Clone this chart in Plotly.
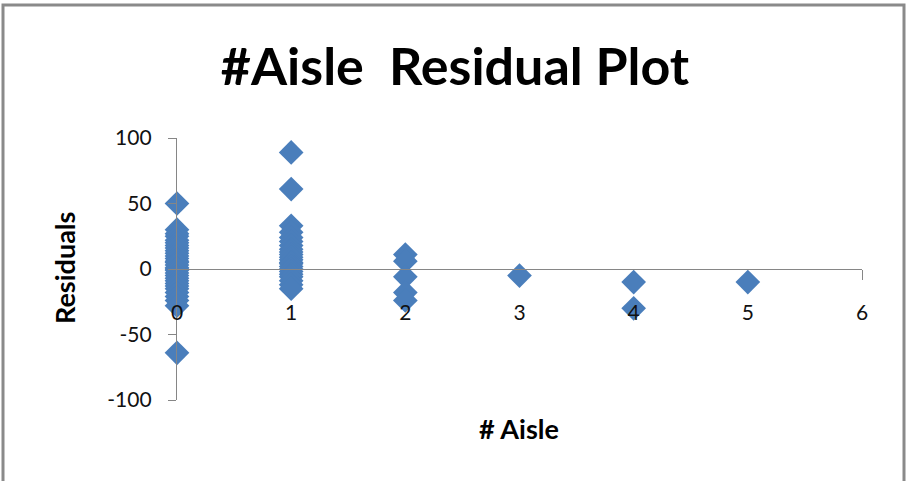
import plotly.graph_objects as go

# Residuals grouped by number of aisles
aisles_0 = [50, 30, 27, 25, 22, 20, 18, 16, 14, 12, 10, 8, 6, 5, 3, 1, 0, -1, -3, -5,
            -7, -9, -11, -13, -15, -18, -21, -24, -28, -64]
aisles_1 = [89, 61, 33, 28, 24, 21, 18, 15, 13, 11, 9, 7, 5, 4, 2, 0, -2, -4, -6,
            -9, -12, -15]
aisles_2 = [11, 6, -6, -18, -24]
aisles_3 = [-5]
aisles_4 = [-10, -30]
aisles_5 = [-10]

groups = [aisles_0, aisles_1, aisles_2, aisles_3, aisles_4, aisles_5]
x_vals = []
y_vals = []
for n, vals in enumerate(groups):
    x_vals += [n] * len(vals)
    y_vals += vals

x_ticks = [0, 1, 2, 3, 4, 5, 6]
y_ticks = [-100, -50, 0, 50, 100]

W, H = 907, 481
L, R, T, B = 177, 45, 138, 81
pw, ph = W - L - R, H - T - B

def px(xp):
    return (xp - L) / pw

def py(yp):
    return (H - B - yp) / ph

font_main = "Lato, 'Open Sans', sans-serif"
axis_grey = "#868686"
blue = "#4A7EBB"

fig = go.Figure()
fig.add_trace(go.Scatter(
    x=x_vals, y=y_vals, mode="markers", cliponaxis=False,
    marker=dict(symbol="diamond", size=19, color=blue, line=dict(width=0)),
    showlegend=False, hoverinfo="x+y",
))

fig.update_layout(
    width=W, height=H,
    margin=dict(l=L, r=R, t=T, b=B),
    paper_bgcolor="white", plot_bgcolor="white",
    font=dict(family=font_main, size=20, color="#000000"),
    title=dict(text="<b>#Aisle  Residual Plot</b>", x=455 / W, xanchor="center", xref="container",
               y=1 - 67 / H, yanchor="middle", yref="container",
               font=dict(size=52, family=font_main, color="#000000")),
    xaxis=dict(range=[0, 6], tickvals=x_ticks, ticktext=[str(v) for v in x_ticks],
               showgrid=False, zeroline=False, showline=True, linecolor=axis_grey, linewidth=1.3,
               anchor="free", position=0.5, ticks="", ticklabelstandoff=25,
               minor=dict(tickvals=[6], ticks="outside", ticklen=10, tickcolor=axis_grey, tickwidth=1.3),
               tickfont=dict(size=21, family=font_main, color="#111111")),
    yaxis=dict(range=[-100, 100], tickvals=y_ticks, ticktext=[str(v) for v in y_ticks],
               showgrid=False, zeroline=False, showline=True, linecolor=axis_grey, linewidth=1.3,
               ticks="outside", ticklen=8, tickcolor=axis_grey, tickwidth=1.3,
               ticklabelstandoff=12,
               tickfont=dict(size=21, family=font_main, color="#111111")),
)

# Axis titles
fig.add_annotation(text="<b># Aisle</b>", x=px(519), y=py(428), xref="paper", yref="paper",
                   showarrow=False, xanchor="center", yanchor="middle",
                   font=dict(size=27, family=font_main, color="#000000"))
fig.add_annotation(text="<b>Residuals</b>", x=px(64), y=py(268), xref="paper", yref="paper",
                   showarrow=False, xanchor="center", yanchor="middle", textangle=-90,
                   font=dict(size=27, family=font_main, color="#000000"))

# Chart frame (left, top, right edges)
fig.add_shape(type="path", xref="paper", yref="paper",
              path=f"M {px(3)} {py(490)} L {px(3)} {py(5)} L {px(904)} {py(5)} L {px(904)} {py(490)}",
              line=dict(color="#8a8a8a", width=3))

fig.write_html("out.html")
